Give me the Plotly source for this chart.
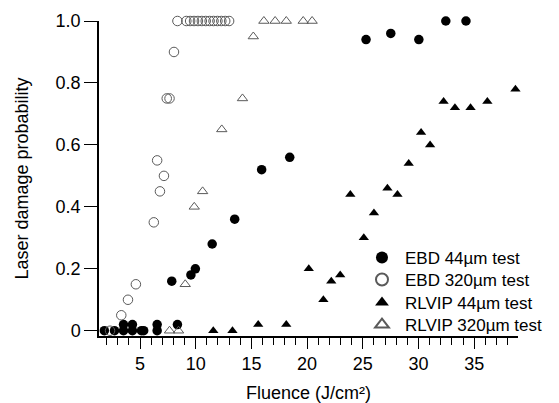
import plotly.graph_objects as go

# EBD 44um test (filled circles)
ebd44_x = [1.80, 2.71, 3.52, 3.52, 4.32, 4.32, 5.13, 5.33, 6.54, 6.54, 7.85, 8.36, 9.57, 9.97, 11.48, 13.50, 15.92, 18.44, 25.29, 27.51, 30.03, 32.45, 34.26]
ebd44_y = [0, 0, 0, 0.02, 0.02, 0, 0, 0, 0.02, 0, 0.16, 0.02, 0.18, 0.20, 0.28, 0.36, 0.52, 0.56, 0.94, 0.96, 0.94, 1.0, 1.0]

# EBD 320um test (open circles)
ebd320_x = [2.31, 3.32, 3.92, 4.63, 6.24, 6.54, 6.79, 7.15, 7.40, 7.65, 8.05, 8.36, 9.16, 9.50, 9.85, 10.20, 10.55, 10.90, 11.25, 11.60, 11.95, 12.30, 12.65, 13.00]
ebd320_y = [0, 0.05, 0.10, 0.15, 0.35, 0.55, 0.45, 0.50, 0.75, 0.75, 0.90, 1.0, 1.0, 1.0, 1.0, 1.0, 1.0, 1.0, 1.0, 1.0, 1.0, 1.0, 1.0, 1.0]

# RLVIP 44um test (filled triangles)
rl44_x = [11.58, 13.30, 15.61, 18.13, 20.15, 21.46, 22.17, 22.97, 23.88, 25.09, 26.00, 27.21, 28.11, 29.12, 30.23, 31.04, 32.25, 33.27, 34.67, 36.18, 38.70]
rl44_y = [0, 0, 0.02, 0.02, 0.20, 0.10, 0.16, 0.18, 0.44, 0.30, 0.38, 0.46, 0.44, 0.54, 0.64, 0.60, 0.74, 0.72, 0.72, 0.74, 0.78]

# RLVIP 320um test (open triangles)
rl320_x = [7.65, 8.46, 9.06, 9.87, 10.62, 12.34, 14.20, 15.17, 16.12, 17.13, 18.13, 19.65, 20.45]
rl320_y = [0, 0, 0.15, 0.40, 0.45, 0.65, 0.75, 0.95, 1.0, 1.0, 1.0, 1.0, 1.0]

series_names = ["EBD 44µm test", "EBD 320µm test", "RLVIP 44µm test", "RLVIP 320µm test"]
x_ticks = [5, 10, 15, 20, 25, 30, 35]
y_ticks = [0, 0.2, 0.4, 0.6, 0.8, 1.0]
y_ticklabels = ["0", "0.2", "0.4", "0.6", "0.8", "1.0"]

FONT = "Liberation Sans, Arial, sans-serif"
FS = 18
LEG_FS = 17
GREY = "#5a5a5a"

fig = go.Figure()
fig.add_trace(go.Scatter(x=ebd44_x, y=ebd44_y, mode="markers", name=series_names[0], legend="legend",
                         marker=dict(symbol="circle", size=9.5, color="black", line=dict(width=0)),
                         cliponaxis=False))
fig.add_trace(go.Scatter(x=ebd320_x, y=ebd320_y, mode="markers", name=series_names[1], legend="legend2",
                         marker=dict(symbol="circle-open", size=9.5, color=GREY, line=dict(width=1)),
                         cliponaxis=False))
fig.add_trace(go.Scatter(x=rl44_x, y=rl44_y, mode="markers", name=series_names[2], legend="legend3",
                         marker=dict(symbol="triangle-up", size=9, color="black", line=dict(width=0)),
                         cliponaxis=False))
fig.add_trace(go.Scatter(x=rl320_x, y=rl320_y, mode="markers", name=series_names[3], legend="legend4",
                         marker=dict(symbol="triangle-up-open", size=9, color=GREY, line=dict(width=1)),
                         cliponaxis=False))

LEG_X = 0.6205
leg_common = dict(x=LEG_X, xanchor="left", yanchor="middle",
                  bgcolor="rgba(0,0,0,0)", font=dict(size=LEG_FS, family=FONT, color="black"),
                  itemsizing="constant", itemwidth=36)

fig.update_layout(
    template="none",
    width=600, height=395,
    margin=dict(l=91, r=90, t=13, b=67),
    paper_bgcolor="white", plot_bgcolor="white",
    font=dict(family=FONT, size=FS, color="black"),
    showlegend=True,
    legend=dict(y=0.2476, **leg_common),
    legend2=dict(y=0.1778, **leg_common),
    legend3=dict(y=0.1048, **leg_common),
    legend4=dict(y=0.0349, **leg_common),
    xaxis=dict(range=[1.32, 38.93], showgrid=False, zeroline=False, automargin=False,
               showline=True, linecolor="black", linewidth=1.5,
               ticks="outside", ticklen=11, tickwidth=1, tickcolor="black",
               tickvals=x_ticks, ticktext=[str(v) for v in x_ticks],
               minor=dict(dtick=1, tick0=0, ticks="outside", ticklen=7, tickcolor="black", tickwidth=1, showgrid=False),
               title=dict(text="Fluence (J/cm²)", font=dict(size=FS), standoff=15),
               tickfont=dict(size=FS)),
    yaxis=dict(range=[-0.017, 1.0], showgrid=False, zeroline=False, automargin=False,
               showline=True, linecolor="black", linewidth=1.5,
               ticks="outside", ticklen=13, tickwidth=1, tickcolor="black",
               tickvals=y_ticks, ticktext=y_ticklabels,
               title=dict(text="Laser damage probability", font=dict(size=FS), standoff=22),
               tickfont=dict(size=FS)),
)

fig.write_html("out.html")
